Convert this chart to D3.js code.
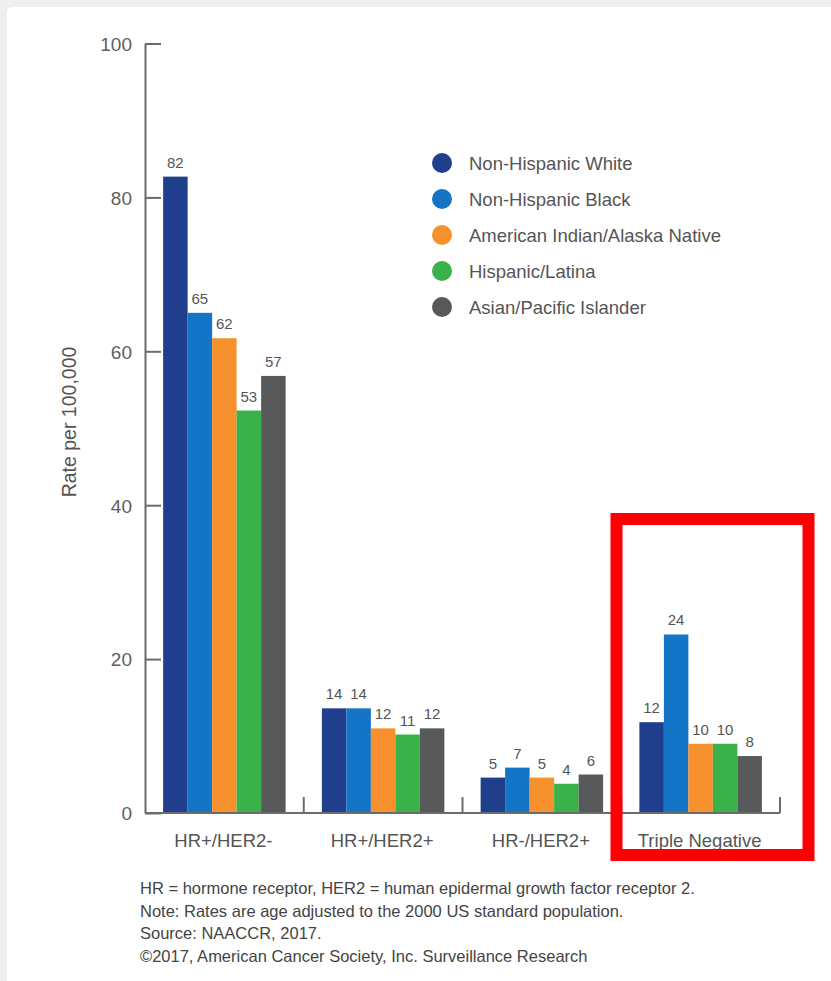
<!DOCTYPE html>
<html>
<head>
<meta charset="utf-8">
<script src="https://cdnjs.cloudflare.com/ajax/libs/d3/7.8.5/d3.min.js"></script>
<style>
  body { margin: 0; background: #efefef; }
  svg { display: block; font-family: "Liberation Sans", Arial, sans-serif; }
  .tick text { fill: #606060; font-size: 19px; }
  .cat-label { fill: #555; font-size: 18.5px; }
  .value-label { fill: #555; font-size: 15px; }
  .legend-label { fill: #555; font-size: 18.5px; }
  .note { fill: #444; font-size: 16.5px; }
</style>
</head>
<body>
<div id="chart"></div>
<script>
  var categories = ['HR+/HER2-', 'HR+/HER2+', 'HR-/HER2+', 'Triple Negative'];
  var groups = ['Non-Hispanic White', 'Non-Hispanic Black', 'American Indian/Alaska Native', 'Hispanic/Latina', 'Asian/Pacific Islander'];
  var colors = ['#1f3f8c', '#1474c6', '#f7912d', '#3bb14b', '#58595b'];

  // bar heights, one array per group (in category order)
  var white    = [82.7, 13.6, 4.6, 11.8];
  var black    = [65.0, 13.6, 5.9, 23.2];
  var native   = [61.7, 11.0, 4.6, 9.0];
  var hispanic = [52.3, 10.2, 3.8, 9.0];
  var asian    = [56.8, 11.0, 5.0, 7.4];

  // printed labels above the bars
  var whiteLabels    = ['82', '14', '5', '12'];
  var blackLabels    = ['65', '14', '7', '24'];
  var nativeLabels   = ['62', '12', '5', '10'];
  var hispanicLabels = ['53', '11', '4', '10'];
  var asianLabels    = ['57', '12', '6', '8'];

  var yTicks = [0, 20, 40, 60, 80, 100];
  var yTitle = 'Rate per 100,000';
  var notes = [
    'HR = hormone receptor, HER2 = human epidermal growth factor receptor 2.',
    'Note: Rates are age adjusted to the 2000 US standard population.',
    'Source: NAACCR, 2017.',
    '\u00a92017, American Cancer Society, Inc. Surveillance Research'
  ];

  var series = [white, black, native, hispanic, asian];
  var seriesLabels = [whiteLabels, blackLabels, nativeLabels, hispanicLabels, asianLabels];

  var width = 831, height = 981;

  var svg = d3.select('#chart').append('svg')
    .attr('width', width)
    .attr('height', height);

  //page frame
  svg.append('rect')
    .attr('x', 0).attr('y', 0)
    .attr('width', width).attr('height', height)
    .attr('fill', '#efefef');
  svg.append('rect')
    .attr('x', 7).attr('y', 7)
    .attr('width', width).attr('height', height)
    .attr('rx', 5)
    .attr('fill', '#fff');

  var x0 = d3.scaleBand()
    .domain(categories)
    .range([145, 780])
    .padding(0);

  var x1 = d3.scaleBand()
    .domain(groups)
    .range([0, x0.bandwidth()])
    .paddingInner(0)
    .paddingOuter(0.74);

  var y = d3.scaleLinear()
    .domain([0, 100])
    .range([813, 43.5]);

  var axisColor = '#6b6b6b';

  //y axis
  var yAxis = svg.append('g')
    .attr('transform', 'translate(' + x0.range()[0] + ',0)')
    .call(d3.axisLeft(y)
      .tickValues(yTicks)
      .tickSizeInner(-16)
      .tickSizeOuter(0)
      .tickPadding(13));
  yAxis.select('.domain').attr('stroke', axisColor).attr('stroke-width', 2);
  yAxis.selectAll('.tick line').attr('stroke', axisColor).attr('stroke-width', 2);
  yAxis.selectAll('.tick text').attr('dy', '0.36em');

  svg.append('text')
    .attr('transform', 'translate(76,422) rotate(-90)')
    .attr('text-anchor', 'middle')
    .attr('fill', '#555')
    .style('font-size', '19.5px')
    .text(yTitle);

  //bars
  var cat = svg.selectAll('.category')
    .data(categories)
    .enter().append('g')
      .attr('class', 'category')
      .attr('transform', function(d) { return 'translate(' + x0(d) + ',0)'; });

  cat.selectAll('rect')
    .data(function(d, ci) {
      return groups.map(function(g, gi) { return { group: g, gi: gi, value: series[gi][ci], label: seriesLabels[gi][ci] }; });
    })
    .enter().append('rect')
      .attr('x', function(d) { return x1(d.group); })
      .attr('y', function(d) { return y(d.value); })
      .attr('width', x1.bandwidth())
      .attr('height', function(d) { return y(0) - y(d.value); })
      .attr('fill', function(d) { return colors[d.gi]; });

  cat.selectAll('.value-label')
    .data(function(d, ci) {
      return groups.map(function(g, gi) { return { group: g, value: series[gi][ci], label: seriesLabels[gi][ci] }; });
    })
    .enter().append('text')
      .attr('class', 'value-label')
      .attr('text-anchor', 'middle')
      .attr('x', function(d) { return x1(d.group) + x1.bandwidth() / 2; })
      .attr('y', function(d) { return y(d.value) - 9; })
      .text(function(d) { return d.label; });

  //x axis baseline + separators
  svg.append('line')
    .attr('x1', x0.range()[0]).attr('x2', x0.range()[1])
    .attr('y1', y(0)).attr('y2', y(0))
    .attr('stroke', axisColor).attr('stroke-width', 2);

  svg.selectAll('.x-sep')
    .data(categories)
    .enter().append('line')
      .attr('class', 'x-sep')
      .attr('x1', function(d) { return x0(d) + x0.bandwidth(); })
      .attr('x2', function(d) { return x0(d) + x0.bandwidth(); })
      .attr('y1', y(0)).attr('y2', y(0) - 16)
      .attr('stroke', axisColor).attr('stroke-width', 2);

  svg.selectAll('.cat-label')
    .data(categories)
    .enter().append('text')
      .attr('class', 'cat-label')
      .attr('text-anchor', 'middle')
      .attr('x', function(d) { return x0(d) + x0.bandwidth() / 2 - 1; })
      .attr('y', 847)
      .text(function(d) { return d; });

  //legend
  var legend = svg.append('g')
    .attr('transform', 'translate(442,163)');
  var item = legend.selectAll('.legend-item')
    .data(groups)
    .enter().append('g')
      .attr('class', 'legend-item')
      .attr('transform', function(d, i) { return 'translate(0,' + i * 36 + ')'; });
  item.append('circle')
    .attr('r', 10)
    .attr('fill', function(d, i) { return colors[i]; });
  item.append('text')
    .attr('class', 'legend-label')
    .attr('x', 27)
    .attr('dy', '0.36em')
    .text(function(d) { return d; });

  //notes
  svg.selectAll('.note')
    .data(notes)
    .enter().append('text')
      .attr('class', 'note')
      .attr('x', 140)
      .attr('y', function(d, i) { return 894 + i * 22.5; })
      .text(function(d) { return d; });

  //highlight box
  svg.append('rect')
    .attr('x', 616.5).attr('y', 519)
    .attr('width', 192).attr('height', 336)
    .attr('fill', 'none')
    .attr('stroke', '#ff0000')
    .attr('stroke-width', 12);
</script>
</body>
</html>
